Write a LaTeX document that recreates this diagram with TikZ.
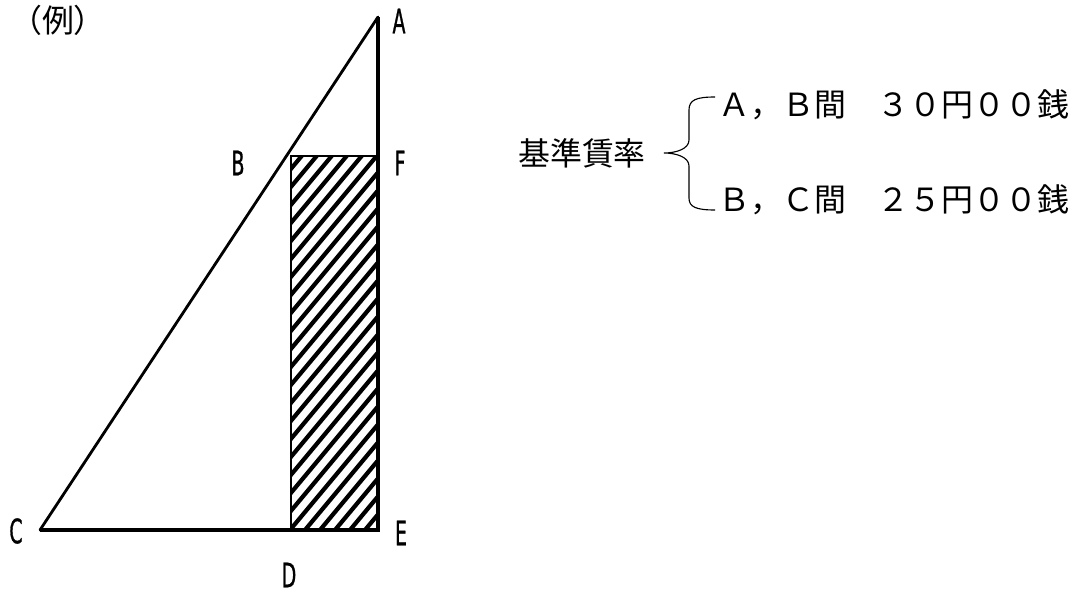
\documentclass[tikz,border=0pt]{standalone}
\usepackage{fontspec}
\usepackage{tikz}
\newfontfamily\jpfont{Noto Sans CJK JP}
\newfontfamily\lblfont[FakeStretch=0.56, FakeBold=0.8]{DejaVu Sans}
\tikzset{
  pt/.style={font=\lblfont\fontsize{24pt}{26pt}\selectfont, inner sep=0pt},
  jp/.style={font=\jpfont\fontsize{22.7pt}{27pt}\selectfont, inner sep=0pt},
  edge/.style={line width=2.7pt},
  hatch/.style={line width=3pt}
}

\begin{document}
\begin{tikzpicture}[x=0.025cm, y=-0.025cm]
  \useasboundingbox (0,0) rectangle (1078,590);

  \coordinate (A) at (378,17);
  \coordinate (C) at (40,530);
  \coordinate (E) at (378,530);
  \coordinate (F) at (378,156);
  \coordinate (D) at (291,530);
  \coordinate (B) at (291,156);

  \begin{scope}
    \clip (D) rectangle (F);
    \foreach \s in {-40,-25,...,390}{
      \draw[hatch] (\s,530) -- ++(400,-480);
    }
  \end{scope}
  \draw[line width=1.1pt] (D) -- (B) -- (F);

  \draw[line width=2pt, line cap=round] (C) -- (A);
  \draw[edge, line join=miter] (C) -- (E) -- (A);

  \node[pt] (labA) at (399,21) {A};
  \node[pt] (labB) at (238,163) {B};
  \node[pt] (labF) at (400,163) {F};
  \node[pt] (labC) at (16,531) {C};
  \node[pt] (labE) at (401,533) {E};
  \node[pt] (labD) at (289,575) {D};
  \node[jp] (rei) at (58,20) {（例）};

  \node[jp] (kijun) at (582,153) {基準賃率};
  \draw[line width=0.8pt] (715,97) .. controls (696,97) and (689,100) .. (689,110)
    -- (689,140) .. controls (689,149) and (676,153) .. (664,153)
    .. controls (676,153) and (689,157) .. (689,166)
    -- (689,198) .. controls (689,207) and (696,210) .. (715,210);
  \node[jp, anchor=west] (rateAB) at (718,105) {Ａ，Ｂ間　３０円００銭};
  \node[jp, anchor=west] (rateBC) at (718,200) {Ｂ，Ｃ間　２５円００銭};
\end{tikzpicture}
\end{document}
